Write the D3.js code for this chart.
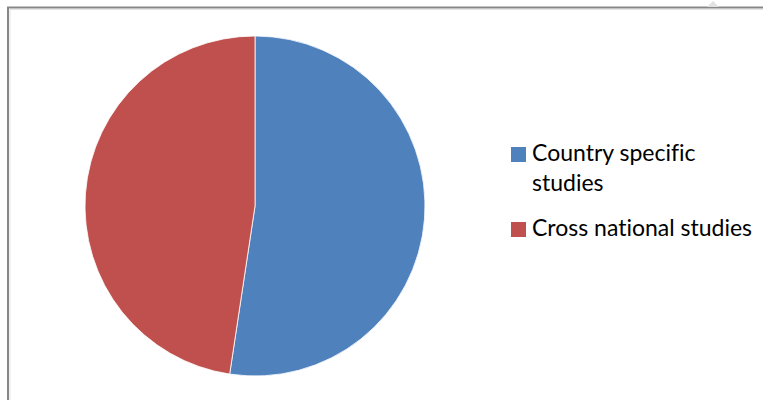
<!DOCTYPE html>
<html>
<head>
<meta charset="utf-8">
<script src="https://cdn.jsdelivr.net/npm/d3@7"></script>
<style>
  body { margin: 0; background: #fff; }
  text { font-family: Lato, "Open Sans", sans-serif; fill: #000; font-variant-ligatures: none; }
</style>
</head>
<body>
<svg id="chart" width="763" height="400"></svg>
<script>
// data
var categories = ['Country specific studies', 'Cross national studies']
var values = [11, 10]
var colors = ['#4F81BD', '#C0504D']
var legendLines = [['Country specific', 'studies'], ['Cross national studies']]

var width = 763, height = 400
var svg = d3.select('#chart')

// frame (chart area runs off the right and bottom of the shot)
svg.append('path')
    .attr('d', 'M8,400 V7.5 H763')
    .attr('fill', 'none')
    .attr('stroke', '#878787')
    .attr('stroke-width', 2)
svg.append('path')
    .attr('d', 'M10,400 V9.5 H763')
    .attr('fill', 'none')
    .attr('stroke', '#e4e4e4')
    .attr('stroke-width', 1)

// small resize grip mark at top
svg.append('path')
    .attr('d', 'M707,7 L713,1 L719,7 Z')
    .attr('fill', '#e2e2e2')

var cx = 255, cy = 206, r = 170

var pie = d3.pie().sort(null).value(function (d) { return d; })
var arc = d3.arc().innerRadius(0).outerRadius(r)

var g = svg.append('g')
    .attr('transform', 'translate(' + cx + ',' + cy + ')')

g.selectAll('path.slice')
    .data(pie(values))
  .enter().append('path')
    .attr('class', 'slice')
    .attr('d', arc)
    .attr('fill', function (d, i) { return colors[i]; })
    .attr('stroke', '#fff')
    .attr('stroke-width', 0.8)

// legend
var legend = svg.append('g').attr('transform', 'translate(511,0)')
var rowY = [147, 222]
categories.forEach(function (c, i) {
    legend.append('rect')
        .attr('x', 0).attr('y', rowY[i])
        .attr('width', 15).attr('height', 15)
        .attr('fill', colors[i])
    legendLines[i].forEach(function (line, j) {
        legend.append('text')
            .attr('x', 21)
            .attr('y', rowY[i] + 14 + j * 30)
            .attr('font-size', 23)
            .text(line)
    })
})
</script>
</body>
</html>
